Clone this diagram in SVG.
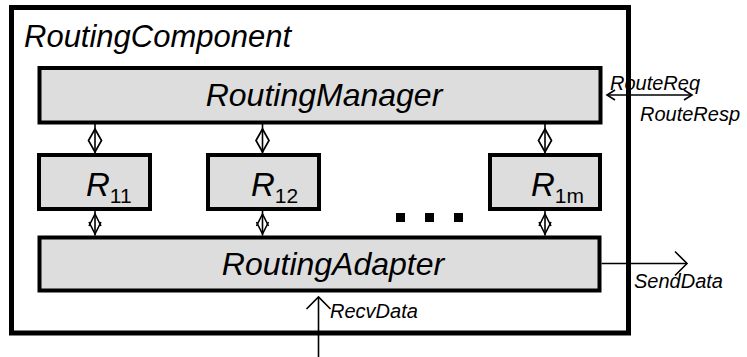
<svg xmlns="http://www.w3.org/2000/svg" width="747" height="357" viewBox="0 0 747 357">
  <style>
    .box { fill: #dddddd; stroke: #000; stroke-width: 4; }
    .frame { fill: #fff; stroke: #000; stroke-width: 5; }
    .big { font-family: "Liberation Sans", Arial, sans-serif; font-style: italic; font-size: 31px; fill: #000; }
    .inner { font-size: 32px; }
    .rl { font-family: "Liberation Sans", Arial, sans-serif; font-style: italic; font-size: 33px; fill: #000; }
    .sub { font-style: normal; font-size: 21px; }
    .lbl { font-family: "Liberation Sans", Arial, sans-serif; font-style: italic; font-size: 20px; fill: #000; }
    .wire { fill: none; stroke: #000; stroke-width: 1.6; }
    .dia { fill: #fff; stroke: #000; stroke-width: 1.7; }
  </style>
  <defs>
    <marker id="vsmall" markerUnits="userSpaceOnUse" markerWidth="12" markerHeight="14" refX="9" refY="6" orient="auto-start-reverse" viewBox="0 0 12 12">
      <path d="M1,1 L9,6 L1,11" fill="none" stroke="#000" stroke-width="1.6"/>
    </marker>
    <marker id="vbig" markerUnits="userSpaceOnUse" markerWidth="16" markerHeight="28" refX="13" refY="13" orient="auto" viewBox="0 0 16 26">
      <path d="M1,1 L13,13 L1,25" fill="none" stroke="#000" stroke-width="1.6"/>
    </marker>
  </defs>

  <!-- enclosing component -->
  <g id="routing-component">
    <rect class="frame" x="11.5" y="7.5" width="617" height="325.5"/>
    <text class="big" x="24" y="47">RoutingComponent</text>
  </g>

  <g id="routing-manager">
    <rect class="box" x="39.5" y="68" width="561" height="54.5"/>
    <text class="big inner" x="324" y="106" text-anchor="middle">RoutingManager</text>
  </g>

  <g id="r11">
    <rect class="box" x="39" y="155" width="111" height="54"/>
    <text class="rl" x="86" y="196">R<tspan class="sub" dy="7">11</tspan></text>
  </g>

  <g id="r12">
    <rect class="box" x="208" y="155" width="111" height="54"/>
    <text class="rl" x="251" y="196">R<tspan class="sub" dy="7">12</tspan></text>
  </g>

  <g id="r1m">
    <rect class="box" x="490" y="155" width="110" height="54"/>
    <text class="rl" x="531" y="196">R<tspan class="sub" dy="7">1m</tspan></text>
  </g>

  <!-- ellipsis between router instances -->
  <g id="ellipsis" fill="#000">
    <rect x="396" y="213" width="9" height="9"/>
    <rect x="425" y="213" width="9" height="9"/>
    <rect x="454" y="213" width="9" height="9"/>
  </g>

  <g id="routing-adapter">
    <rect class="box" x="39.5" y="237.5" width="560" height="53"/>
    <text class="big inner" x="333" y="275" text-anchor="middle">RoutingAdapter</text>
  </g>

  <g id="connectors">
    <!-- manager <-> routers -->
    <g>
      <line class="wire" x1="95" y1="124" x2="95" y2="153"/>
      <polygon class="dia" points="95,129 101.5,140.5 95,152 88.5,140.5"/>
      <line class="wire" x1="95" y1="129" x2="95" y2="152"/>
      <line class="wire" x1="262.5" y1="124" x2="262.5" y2="153"/>
      <polygon class="dia" points="262.5,129 269,140.5 262.5,152 256,140.5"/>
      <line class="wire" x1="262.5" y1="129" x2="262.5" y2="152"/>
      <line class="wire" x1="545" y1="124" x2="545" y2="153"/>
      <polygon class="dia" points="545,129 551.5,140.5 545,152 538.5,140.5"/>
      <line class="wire" x1="545" y1="129" x2="545" y2="152"/>
    </g>
    <!-- routers <-> adapter -->
    <g>
      <line class="wire" x1="95" y1="211" x2="95" y2="235.5"/>
      <polyline class="wire" points="89,226 95,214 101,226"/>
      <polyline class="wire" points="89,222 95,234 101,222"/>
      <line class="wire" x1="262.5" y1="211" x2="262.5" y2="235.5"/>
      <polyline class="wire" points="256.5,226 262.5,214 268.5,226"/>
      <polyline class="wire" points="256.5,222 262.5,234 268.5,222"/>
      <line class="wire" x1="545" y1="211" x2="545" y2="235.5"/>
      <polyline class="wire" points="539,226 545,214 551,226"/>
      <polyline class="wire" points="539,222 545,234 551,222"/>
    </g>
    <!-- external interfaces -->
    <line class="wire" x1="607" y1="95" x2="692" y2="95" marker-start="url(#vsmall)" marker-end="url(#vsmall)"/>
    <line class="wire" x1="601.5" y1="263.5" x2="687" y2="263.5" marker-end="url(#vbig)"/>
    <line class="wire" x1="318.5" y1="357" x2="318.5" y2="297" marker-end="url(#vbig)"/>
  </g>

  <g id="labels">
    <text class="lbl" x="610" y="90">RouteReq</text>
    <text class="lbl" x="640" y="121">RouteResp</text>
    <text class="lbl" x="634" y="288">SendData</text>
    <text class="lbl" x="330" y="318">RecvData</text>
  </g>
</svg>
